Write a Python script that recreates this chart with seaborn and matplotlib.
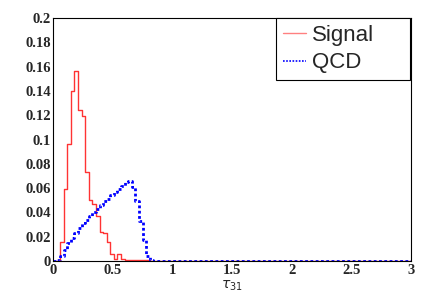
import numpy as np
import pandas as pd
import seaborn as sns
import matplotlib.pyplot as plt
from matplotlib.ticker import MultipleLocator, FixedLocator

# bin width 0.03 over [0, 3] -> 100 bins (first 30 bins, rest are 0)
signal_head = [0.0, 0.0, 0.016, 0.059, 0.096, 0.140, 0.156, 0.124, 0.119, 0.073,
               0.050, 0.047, 0.037, 0.024, 0.023, 0.016, 0.006, 0.002, 0.0055, 0.002,
               0.0012, 0.0012, 0.001, 0.001, 0.001, 0.0008, 0.001, 0.0, 0.0, 0.0]
qcd_head = [0.0, 0.001, 0.004, 0.009, 0.015, 0.019, 0.023, 0.027, 0.031, 0.034,
            0.037, 0.040, 0.043, 0.046, 0.049, 0.051, 0.054, 0.057, 0.059, 0.062,
            0.065, 0.066, 0.061, 0.049, 0.033, 0.017, 0.004, 0.0005, 0.0, 0.0]
signal = signal_head + [0.0] * 70
qcd = qcd_head + [0.0] * 70

y_ticks = [0, 0.02, 0.04, 0.06, 0.08, 0.1, 0.12, 0.14, 0.16, 0.18, 0.2]
y_labels = ["0", "0.02", "0.04", "0.06", "0.08", "0.1", "0.12", "0.14", "0.16", "0.18", "0.2"]
x_ticks = [0, 0.5, 1, 1.5, 2, 2.5, 3]
x_labels = ["0", "0.5", "1", "1.5", "2", "2.5", "3"]

edges = np.linspace(0, 3, 101)
df = pd.DataFrame({"tau31": (edges[:-1] + edges[1:]) / 2, "signal": signal, "qcd": qcd})

sns.set_style("white")
plt.rcParams["font.family"] = ["Liberation Sans", "DejaVu Sans"]

fig = plt.figure(figsize=(4.47, 3.04), dpi=100)
ax = fig.add_axes([0.1186, 0.1414, 0.8009, 0.7994])

sns.histplot(data=df, x="tau31", weights="signal", bins=list(edges), element="step", fill=False,
             color="#ff3333", linewidth=1.0, label="Signal", ax=ax)
sns.histplot(data=df, x="tau31", weights="qcd", bins=list(edges), element="step", fill=False,
             color="#0000ff", linewidth=2.0, linestyle=(0, (1, 0.9)), label="QCD", ax=ax)

ax.set_xlim(0, 3)
ax.set_ylim(0, 0.2)
ax.set_ylabel("")
ax.set_xlabel(r"$\tau_{31}$", fontsize=10, labelpad=1)

ax.xaxis.set_major_locator(FixedLocator(x_ticks))
ax.yaxis.set_major_locator(FixedLocator(y_ticks))
ax.set_xticklabels(x_labels, family="Liberation Serif", fontweight="bold", fontsize=10.5)
ax.set_yticklabels(y_labels, family="Liberation Serif", fontweight="bold", fontsize=10.5)
ax.xaxis.set_minor_locator(MultipleLocator(0.1))
ax.yaxis.set_minor_locator(MultipleLocator(0.004))
ax.tick_params(axis="x", which="major", direction="in", length=6, width=0.8, pad=2, color="#333333")
ax.tick_params(axis="x", which="minor", direction="in", length=3, width=0.8, color="#333333")
ax.tick_params(axis="y", which="major", direction="in", length=8, width=0.8, pad=1.5, color="#333333")
ax.tick_params(axis="y", which="minor", direction="in", length=4, width=0.8, color="#333333")
ax.tick_params(top=False, right=False, which="both")
for s in ax.spines.values():
    s.set_color("black")
    s.set_linewidth(0.8)

leg = ax.legend(loc="upper left", bbox_to_anchor=(0.623, 0.0, 0.374, 1.0), mode="expand",
                borderaxespad=0, fontsize=16, frameon=True, fancybox=False, edgecolor="black",
                handlelength=1.04, handletextpad=0.29, labelspacing=0.3, borderpad=0.3)
leg.get_frame().set_linewidth(0.8)
leg.get_frame().set_alpha(1)
leg.get_lines()[0].set_color("#ff8080")
leg.get_lines()[1].set_linewidth(1.2)

fig.savefig("out.png", dpi=100)
